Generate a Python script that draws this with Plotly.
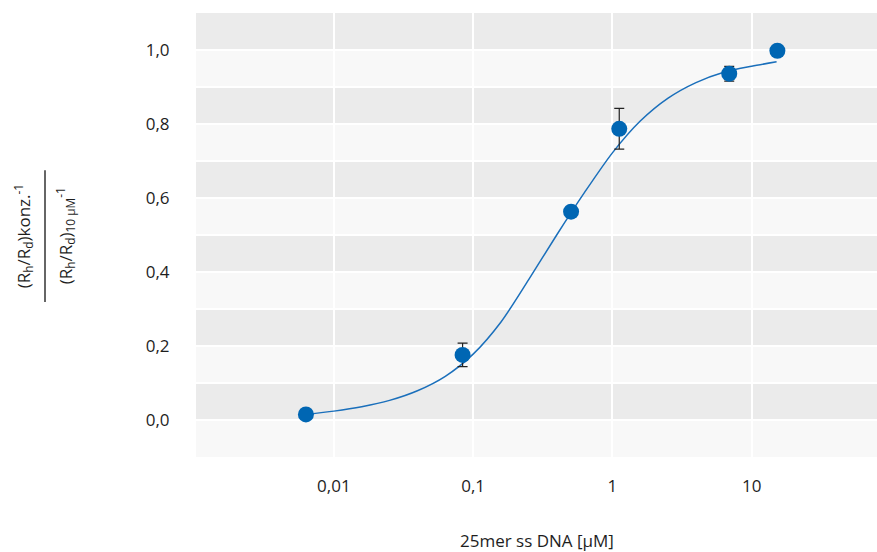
import plotly.graph_objects as go

# Measured data
conc = [0.0063, 0.084, 0.505, 1.12, 6.9, 15.3]
ratio = [0.015, 0.176, 0.563, 0.787, 0.936, 0.998]
err = [0.0, 0.032, 0.0, 0.055, 0.02, 0.0]

# Fitted curve
fit_x = [0.00631, 0.01, 0.01585, 0.02512, 0.03981, 0.0631, 0.1, 0.1585, 0.2512,
         0.3981, 0.631, 1.0, 1.585, 2.512, 3.981, 6.31, 10.0, 15.1]
fit_y = [0.015, 0.024, 0.036, 0.053, 0.079, 0.118, 0.178, 0.265, 0.380,
         0.500, 0.615, 0.722, 0.808, 0.870, 0.912, 0.940, 0.956, 0.968]

x_tickvals = [0.01, 0.1, 1, 10]
x_ticktext = ["0,01", "0,1", "1", "10"]
y_tickvals = [0.0, 0.2, 0.4, 0.6, 0.8, 1.0]
y_ticktext = ["0,0", "0,2", "0,4", "0,6", "0,8", "1,0"]

BLUE = "#0066b3"
TXT = "#1e1e1e"
FONT = "Open Sans"
FS = 17

fig = go.Figure()
fig.add_trace(go.Scatter(x=fit_x, y=fit_y, mode="lines",
                         line=dict(color="#1a6fbb", width=1.5, shape="spline", smoothing=0.8),
                         hoverinfo="skip", showlegend=False))
fig.add_trace(go.Scatter(x=conc, y=ratio, mode="markers",
                         marker=dict(color=BLUE, size=16),
                         error_y=dict(type="data", array=err, visible=True,
                                      color="#222222", thickness=1.2, width=5),
                         showlegend=False))

# alternating bands
shapes = []
bands = [(-0.1 + 0.1 * i) for i in range(12)]
for i, b in enumerate(bands):
    col = "#f8f8f8" if i % 2 == 0 else "#ebebeb"
    shapes.append(dict(type="rect", xref="paper", yref="y", x0=0, x1=1,
                       y0=round(b, 2), y1=round(b + 0.1, 2), fillcolor=col,
                       line=dict(width=0), layer="below"))

# fraction bar of y title
shapes.append(dict(type="line", xref="paper", yref="paper",
                   x0=(45 - 196) / 681, x1=(45 - 196) / 681,
                   y0=0.349, y1=0.646, line=dict(color="#333333", width=1.5)))

fig.update_layout(
    width=877, height=552,
    margin=dict(l=196, r=0, t=13, b=95),
    paper_bgcolor="white", plot_bgcolor="#f8f8f8",
    font=dict(family=FONT, size=FS, color=TXT),
    shapes=shapes,
    annotations=[
        dict(text="(R<sub>h</sub>/R<sub>d</sub>)konz.<sup>-1</sup>", xref="paper", yref="paper",
             x=(23 - 196) / 681, y=0.497, textangle=-90, showarrow=False,
             xanchor="center", yanchor="middle", font=dict(size=FS, family=FONT, color=TXT)),
        dict(text="(R<sub>h</sub>/R<sub>d</sub>)<sub>10 µM</sub><sup>-1</sup>", xref="paper", yref="paper",
             x=(65 - 196) / 681, y=0.497, textangle=-90, showarrow=False,
             xanchor="center", yanchor="middle", font=dict(size=FS, family=FONT, color=TXT)),
        dict(text="25mer ss DNA [µM]", xref="paper", yref="paper",
             x=0.5, y=(457 - 540) / 444, showarrow=False,
             xanchor="center", yanchor="middle", font=dict(size=FS, family=FONT, color=TXT)),
    ],
)
fig.update_xaxes(type="log", range=[-2.99, 1.90], tickvals=x_tickvals, ticktext=x_ticktext,
                 showgrid=True, gridcolor="white", gridwidth=2, zeroline=False, showline=False,
                 ticks="outside", ticklen=14, tickcolor="rgba(0,0,0,0)")
fig.update_yaxes(range=[-0.1, 1.1], tickvals=y_tickvals, ticktext=y_ticktext,
                 showgrid=True, gridcolor="white", gridwidth=1.5, zeroline=False, showline=False,
                 minor=dict(tickvals=[round(-0.1 + 0.1 * i, 2) for i in range(13)],
                            showgrid=True, gridcolor="white", gridwidth=1.5),
                 ticks="outside", ticklen=22, tickcolor="rgba(0,0,0,0)")

fig.write_html("out.html", config={"displayModeBar": False},
               post_script="document.body.style.margin='0';document.body.style.overflow='hidden';")
